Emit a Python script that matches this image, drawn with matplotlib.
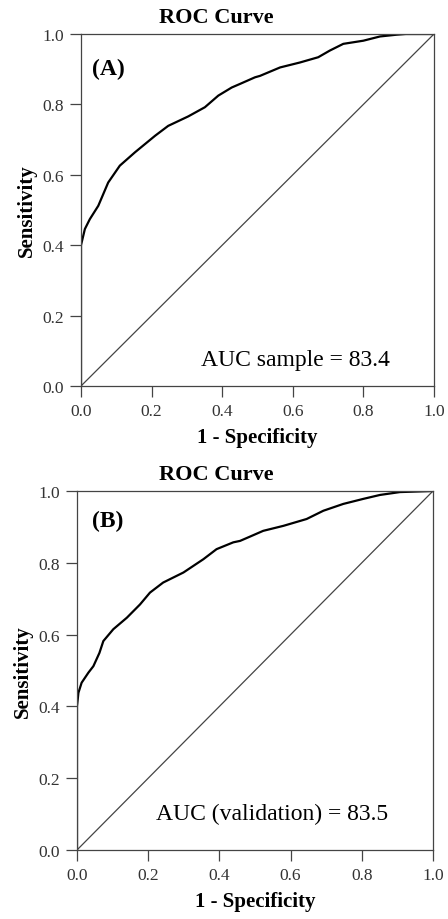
import matplotlib
matplotlib.use("Agg")
import matplotlib.pyplot as plt

plt.rcParams['font.family'] = ['Liberation Serif', 'DejaVu Serif']

# ROC curve (A) - sample
fpr_a = [0.0, 0.0, 0.0, 0.011, 0.025, 0.049, 0.077, 0.110, 0.153, 0.21, 0.247, 0.304,
         0.351, 0.389, 0.427, 0.450, 0.493, 0.507, 0.564, 0.620, 0.672, 0.705, 0.743,
         0.80, 0.847, 0.894, 0.92, 1.0]
tpr_a = [0.0, 0.23, 0.40, 0.446, 0.474, 0.512, 0.578, 0.626, 0.664, 0.711, 0.739, 0.766,
         0.792, 0.825, 0.848, 0.858, 0.877, 0.881, 0.905, 0.919, 0.934, 0.953, 0.972,
         0.981, 0.993, 0.998, 1.0, 1.0]

# ROC curve (B) - validation
fpr_b = [0.0, 0.0, 0.0, 0.004, 0.013, 0.032, 0.046, 0.063, 0.074, 0.102, 0.140, 0.177,
         0.205, 0.242, 0.299, 0.355, 0.392, 0.439, 0.458, 0.486, 0.523, 0.580, 0.645,
         0.692, 0.748, 0.804, 0.851, 0.907, 1.0]
tpr_b = [0.0, 0.186, 0.40, 0.438, 0.466, 0.494, 0.512, 0.549, 0.582, 0.615, 0.647, 0.684,
         0.717, 0.745, 0.773, 0.810, 0.838, 0.857, 0.861, 0.873, 0.889, 0.903, 0.922,
         0.945, 0.964, 0.978, 0.989, 0.997, 1.0]

ticks = [0.0, 0.2, 0.4, 0.6, 0.8, 1.0]

fig = plt.figure(figsize=(4.48, 9.2), dpi=100)

panels = [
    ([81/448, 1-387/920, 353/448, 352/920], fpr_a, tpr_a, '(A)', (0.031, 0.903),
     'AUC sample = 83.4', (0.874, 0.074), 18/920),
    ([77/448, 1-851/920, 356/448, 359/920], fpr_b, tpr_b, '(B)', (0.041, 0.917),
     'AUC (validation) = 83.5', (0.874, 0.103), 475/920),
]

for rect, fpr, tpr, tag, tag_pos, auc, auc_pos, title_y in panels:
    ax = fig.add_axes(rect)
    ax.plot([0, 1], [0, 1], color='#444444', lw=0.9)
    ax.plot(fpr, tpr, color='black', lw=1.6)
    ax.set_xlim(0, 1)
    ax.set_ylim(0, 1)
    ax.set_xticks(ticks)
    ax.set_yticks(ticks)
    ax.set_xticklabels([f'{t:.1f}' for t in ticks])
    ax.set_yticklabels([f'{t:.1f}' for t in ticks])
    ax.tick_params(direction='out', length=8, width=0.9, pad=4,
                   labelsize=12.5, labelcolor='#333333', color='#444444')
    for s in ax.spines.values():
        s.set_color('#444444')
        s.set_linewidth(0.9)
    ax.set_xlabel('1 - Specificity', fontsize=15, fontweight='bold', labelpad=6)
    ax.set_ylabel('Sensitivity', fontsize=15, fontweight='bold', labelpad=4)
    ax.text(tag_pos[0], tag_pos[1], tag, fontsize=17, fontweight='bold',
            ha='left', va='center', transform=ax.transAxes)
    ax.text(auc_pos[0], auc_pos[1], auc, fontsize=17, ha='right', va='center',
            transform=ax.transAxes)
    fig.text(216/448, 1 - title_y, 'ROC Curve', fontsize=16, fontweight='bold',
             ha='center', va='center')

fig.savefig('out.png', dpi=100)
